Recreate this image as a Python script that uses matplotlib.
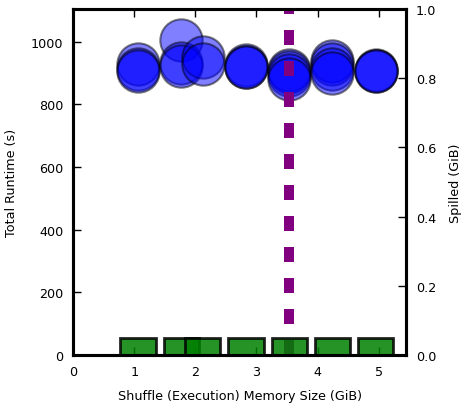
import matplotlib
matplotlib.use("Agg")
import matplotlib.pyplot as plt
import numpy as np

# memory sizes (GiB)
mem_sizes = [1.06, 1.77, 2.12, 2.83, 3.54, 4.24, 4.95]
# total runtime per run (s), several runs per memory size
runtimes = [
    [930, 912, 905],
    [1004, 932, 922],
    [952, 928],
    [925, 920, 918],
    [911, 902, 893, 882],
    [938, 928, 912, 901],
    [909, 906, 907],
]
# spilled data (GiB)
spilled = [0.048, 0.048, 0.048, 0.048, 0.048, 0.048, 0.048]
# chosen memory size marker
chosen = 3.54

xticks = [0, 1, 2, 3, 4, 5]
yticks_left = [0, 200, 400, 600, 800, 1000]
yticks_right = [0.0, 0.2, 0.4, 0.6, 0.8, 1.0]

plt.rcParams['font.family'] = ['DejaVu Sans']
plt.rcParams['font.size'] = 9.2

fig = plt.figure(figsize=(4.62, 4.06), dpi=100)
ax = fig.add_axes([73/462, 1-356/406, (406-73)/462, (356-10)/406])
ax2 = ax.twinx()

xs, ys = [], []
for m, rs in zip(mem_sizes, runtimes):
    for r in rs:
        xs.append(m)
        ys.append(r)
ax.scatter(xs, ys, s=930, c='blue', alpha=0.5, edgecolors='black', linewidths=1.5, zorder=2)
ax.axvline(chosen, color='purple', lw=7.2, dashes=(1.5, 1.6), zorder=3)

ax2.bar(mem_sizes, spilled, width=0.58, color='green', alpha=0.85,
        edgecolor='black', linewidth=2)

ymax = max(max(r) for r in runtimes) * 1.1
ax.set_xlim(0, max(mem_sizes) * 1.1)
ax.set_ylim(0, ymax)
ax2.set_ylim(0, 1)

ax.set_xticks(xticks)
ax.set_yticks(yticks_left)
ax2.set_yticks(yticks_right)
ax2.set_yticklabels([f"{v:.1f}" for v in yticks_right])

ax.tick_params(axis='x', direction='in', top=True, length=6, width=1, pad=7)
ax.tick_params(axis='y', direction='in', right=False, length=6, width=1, pad=7)
ax2.tick_params(axis='y', direction='in', length=6, width=1, pad=7)

for a in (ax, ax2):
    for sp in a.spines.values():
        sp.set_linewidth(2.2)

ax.set_xlabel("Shuffle (Execution) Memory Size (GiB)", labelpad=8)
ax.set_ylabel("Total Runtime (s)", labelpad=9)
ax2.set_ylabel("Spilled (GiB)", labelpad=9)

fig.savefig("out.png", dpi=100)
